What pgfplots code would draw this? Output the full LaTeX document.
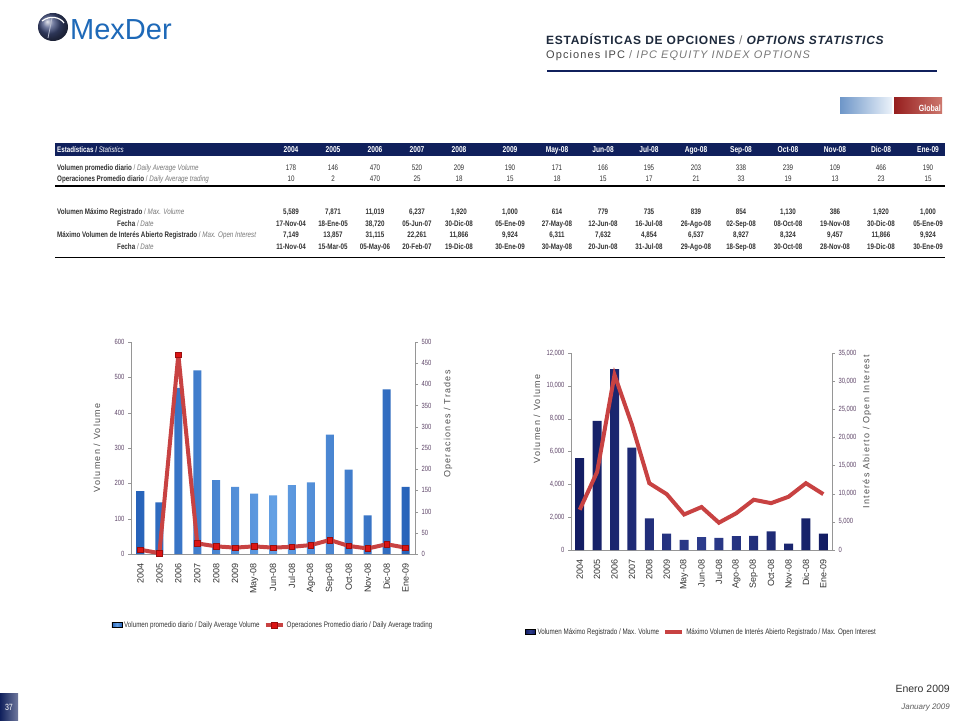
\documentclass[border=0pt]{standalone}
\usepackage{pgfplots}
\pgfplotsset{compat=1.18}
\usepackage{fontspec}
\setmainfont{Liberation Sans}
\newfontfamily\narrow[FakeStretch=0.78]{Liberation Sans}
\newfontfamily\spaced[LetterSpace=14]{Liberation Sans}
\newfontfamily\titlefont[LetterSpace=6]{Liberation Sans}
\newfontfamily\subfont[LetterSpace=10]{Liberation Sans}
\usetikzlibrary{shadings}

\definecolor{navy}{RGB}{16,32,92}
\definecolor{txt}{RGB}{50,50,50}
\definecolor{ttl}{RGB}{30,42,60}
\definecolor{itx}{RGB}{120,120,120}
\definecolor{tickc}{RGB}{95,70,105}
\definecolor{axc}{RGB}{150,150,150}
\definecolor{barblue}{RGB}{38,98,185}
\definecolor{barblueL}{RGB}{100,160,228}
\definecolor{bardark}{RGB}{18,28,98}
\definecolor{bardarkL}{RGB}{45,60,140}
\definecolor{linered}{RGB}{200,66,66}
\definecolor{markred}{RGB}{220,20,20}
\definecolor{logoblue}{RGB}{30,105,184}
\definecolor{tabblue}{RGB}{110,150,200}
\definecolor{tabblueL}{RGB}{235,242,250}
\definecolor{tabred}{RGB}{150,30,30}
\definecolor{tabredL}{RGB}{205,120,110}

\pgfplotsset{
  chart/.style={
    scale only axis, anchor=south west,
    xmin=-0.5, xmax=14.5,
    axis line style={axc},
    tick style={axc},
    tick align=outside,
    major tick length=3pt,
    /pgf/number format/assume math mode=true,
    /pgf/number format/1000 sep={,},
    scaled y ticks=false,
    yticklabel style={font=\narrow\fontsize{7.5}{8}\selectfont, text=tickc},
    ylabel style={font=\spaced\fontsize{9}{10}\selectfont, text=txt!85, anchor=center},
  },
  catx/.style={
    xtick={0,...,14},
    xticklabels={2004,2005,2006,2007,2008,2009,May-08,Jun-08,Jul-08,Ago-08,Sep-08,Oct-08,Nov-08,Dic-08,Ene-09},
    x tick label style={rotate=90, anchor=east, xshift=-3pt, font=\fontsize{9}{10}\selectfont, text=txt},
    x tick style={draw=none},
    minor xtick={-0.5,0.5,...,14.5},
    minor tick length=3pt,
    minor x tick style={axc},
  },
}

\begin{document}
\begin{tikzpicture}[x=1pt,y=1pt]
\fill[white] (0,0) rectangle (960,720);
\path[use as bounding box] (0,0) rectangle (960,720);

% logo
\shade[ball color=navy!80] (53,693) ellipse (15 and 14);
\draw[white, line width=1.2pt] (42,699) .. controls (50,705) and (60,703) .. (64,697);
\draw[white!70!navy, line width=0.8pt] (52,702) -- (48,682);
\node[anchor=west, text=logoblue, font=\fontsize{29}{30}\selectfont, inner sep=0] at (70,690) {MexDer};

% title block
\node[anchor=west, text=ttl, inner sep=0, font=\titlefont\fontsize{12}{13}\selectfont\bfseries] at (546,681)
  {ESTADÍSTICAS DE OPCIONES \textcolor{itx}{\mdseries/} \textit{OPTIONS STATISTICS}};
\node[anchor=west, text=txt!90, inner sep=0, font=\subfont\fontsize{11}{12}\selectfont] at (546,664)
  {Opciones IPC \textcolor{itx}{/ \textit{IPC EQUITY INDEX OPTIONS}}};
\fill[navy] (547,647.5) rectangle (937,650);

% Global tab
\shade[left color=tabblue, right color=tabblueL] (840,606) rectangle (892,622);
\shade[left color=tabred, right color=tabredL] (894,606) rectangle (942,622);
\node[anchor=east, text=white, inner sep=0, font=\narrow\fontsize{9}{10}\selectfont\bfseries] at (941,612) {Global};

% table
\fill[navy] (55,564) rectangle (945,577);
\node[anchor=base west, inner sep=0, text=white, font=\narrow\fontsize{8}{9}\selectfont\bfseries] at (57,567.6)
  {Estadísticas / \textit{\mdseries Statistics}};
\foreach \x/\v in {291/2004,333/2005,375/2006,417/2007,459/2008,510/2009,557/May-08,603/Jun-08,649/Jul-08,696/Ago-08,741/Sep-08,788/Oct-08,835/Nov-08,881/Dic-08,928/Ene-09}
  \node[anchor=base, inner sep=0, text=white, font=\narrow\fontsize{8.5}{9}\selectfont\bfseries] at (\x,567.4) {\v};

\begin{scope}[every node/.style={inner sep=0, anchor=base, text=txt, font=\narrow\fontsize{8}{9}\selectfont}]
\node[anchor=base west] at (57,549.1) {\textbf{Volumen promedio diario} \textcolor{itx}{/ \textit{Daily Average Volume}}};
\node[anchor=base west] at (57,538.1) {\textbf{Operaciones Promedio diario} \textcolor{itx}{/ \textit{Daily Average trading}}};
\node[anchor=base west] at (57,505.1) {\textbf{Volumen Máximo Registrado} \textcolor{itx}{/ \textit{Max. Volume}}};
\node[anchor=base west] at (117,493.1) {\textbf{Fecha} \textcolor{itx}{/ \textit{Date}}};
\node[anchor=base west] at (57,482.1) {\textbf{Máximo Volumen de Interés Abierto Registrado} \textcolor{itx}{/ \textit{Max. Open Interest}}};
\node[anchor=base west] at (117,470.1) {\textbf{Fecha} \textcolor{itx}{/ \textit{Date}}};

\foreach \x/\v in {291/178,333/146,375/470,417/520,459/209,510/190,557/171,603/166,649/195,696/203,741/338,788/239,835/109,881/466,928/190}
  \node at (\x,549.1) {\v};
\foreach \x/\v in {291/10,333/2,375/470,417/25,459/18,510/15,557/18,603/15,649/17,696/21,741/33,788/19,835/13,881/23,928/15}
  \node at (\x,538.1) {\v};
\foreach \x/\v in {291/5{,}589,333/7{,}871,375/11{,}019,417/6{,}237,459/1{,}920,510/1{,}000,557/614,603/779,649/735,696/839,741/854,788/1{,}130,835/386,881/1{,}920,928/1{,}000}
  \node[font=\narrow\fontsize{8}{9}\selectfont\bfseries] at (\x,505.1) {\v};
\foreach \x/\v in {291/17-Nov-04,333/18-Ene-05,375/38{,}720,417/05-Jun-07,459/30-Dic-08,510/05-Ene-09,557/27-May-08,603/12-Jun-08,649/16-Jul-08,696/26-Ago-08,741/02-Sep-08,788/08-Oct-08,835/19-Nov-08,881/30-Dic-08,928/05-Ene-09}
  \node[font=\narrow\fontsize{8}{9}\selectfont\bfseries] at (\x,493.1) {\v};
\foreach \x/\v in {291/7{,}149,333/13{,}857,375/31{,}115,417/22{,}261,459/11{,}866,510/9{,}924,557/6{,}311,603/7{,}632,649/4{,}854,696/6{,}537,741/8{,}927,788/8{,}324,835/9{,}457,881/11{,}866,928/9{,}924}
  \node[font=\narrow\fontsize{8}{9}\selectfont\bfseries] at (\x,482.1) {\v};
\foreach \x/\v in {291/11-Nov-04,333/15-Mar-05,375/05-May-06,417/20-Feb-07,459/19-Dic-08,510/30-Ene-09,557/30-May-08,603/20-Jun-08,649/31-Jul-08,696/29-Ago-08,741/18-Sep-08,788/30-Oct-08,835/28-Nov-08,881/19-Dic-08,928/30-Ene-09}
  \node[font=\narrow\fontsize{8}{9}\selectfont\bfseries] at (\x,470.1) {\v};
\end{scope}
\draw[black, line width=1.6pt] (55,534) -- (945,534);
\draw[black, line width=0.8pt] (55,463) -- (945,463);

% left chart: bars
\begin{axis}[chart, catx,
  at={(131pt,166pt)}, width=284pt, height=212pt,
  ymin=0, ymax=600, ytick={0,100,...,600},
  axis x line*=bottom, axis y line*=left,
  ylabel={Volumen / Volume},
  ylabel style={at={(rel axis cs:0,0.5)}, yshift=34pt},
]
\addplot[ybar, bar width=8pt, draw=none, left color=barblue, right color=barblue, middle color=barblueL] table {
x y
0 178
1 146
2 470
3 520
4 209
5 190
6 171
7 166
8 195
9 203
10 338
11 239
12 109
13 466
14 190
};
\end{axis}
% left chart: line
\begin{axis}[chart,
  at={(131pt,166pt)}, width=284pt, height=212pt,
  ymin=0, ymax=500, ytick={0,50,...,500},
  axis x line=none, axis y line*=right,
  ylabel={Operaciones / Trades},
  ylabel style={at={(rel axis cs:1,0.613)}, yshift=-33pt},
  legend style={at={(0.5,-0.335)}, anchor=center, draw=none, fill=none,
    font=\narrow\fontsize{8}{9}\selectfont, text=txt,
    legend columns=2, /tikz/every even column/.append style={column sep=2pt}},
  legend cell align=left,
]
\addlegendimage{legend image code/.code={\shade[left color=barblue, right color=barblue, middle color=barblueL] (0pt,-2.5pt) rectangle (10pt,2.5pt);}}
\addlegendentry{Volumen promedio diario / Daily Average Volume}
\addplot[linered, line width=4pt, mark=square*, mark size=2.8pt,
  mark options={fill=markred, draw=markred!70!black, line width=0.5pt}] table {
x y
0 10
1 2
2 470
3 25
4 18
5 15
6 18
7 15
8 17
9 21
10 33
11 19
12 13
13 23
14 15
};
\addlegendentry{Operaciones Promedio diario / Daily Average trading}
\end{axis}

% right chart: bars
\begin{axis}[chart, catx,
  at={(571pt,170pt)}, width=261pt, height=197pt,
  ymin=0, ymax=12000, ytick={0,2000,...,12000},
  axis x line*=bottom, axis y line*=left,
  ylabel={Volumen / Volume},
  ylabel style={at={(rel axis cs:0,0.665)}, yshift=34pt},
]
\addplot[ybar, bar width=9pt, draw=none, left color=bardark, right color=bardark, middle color=bardarkL] table {
x y
0 5589
1 7871
2 11019
3 6237
4 1920
5 1000
6 614
7 779
8 735
9 839
10 854
11 1130
12 386
13 1920
14 1000
};
\end{axis}
% right chart: line
\begin{axis}[chart,
  at={(571pt,170pt)}, width=261pt, height=197pt,
  ymin=0, ymax=35000, ytick={0,5000,...,35000},
  axis x line=none, axis y line*=right,
  ylabel={Interés Abierto / Open Interest},
  ylabel style={at={(rel axis cs:1,0.6)}, yshift=-35pt},
  legend style={at={(0.5,-0.416)}, anchor=center, draw=none, fill=none,
    font=\narrow\fontsize{8}{9}\selectfont, text=txt,
    legend columns=2, /tikz/every even column/.append style={column sep=2pt}},
  legend cell align=left,
]
\addlegendimage{legend image code/.code={\shade[left color=bardark, right color=bardark, middle color=bardarkL] (0pt,-2.5pt) rectangle (10pt,2.5pt);}}
\addlegendentry{Volumen Máximo Registrado / Max. Volume}
\addplot[linered, line width=4pt] table {
x y
0 7149
1 13857
2 31115
3 22261
4 11866
5 9924
6 6311
7 7632
8 4854
9 6537
10 8927
11 8324
12 9457
13 11866
14 9924
};
\addlegendentry{Máximo Volumen de Interés Abierto Registrado / Max. Open Interest}
\end{axis}

% footer
\shade[left color=navy, right color=navy!60] (0,0) rectangle (18,27);
\node[text=white, inner sep=0, font=\narrow\fontsize{9}{10}\selectfont] at (9,13) {37};
\node[anchor=east, inner sep=0, text=txt, font=\fontsize{10.5}{11}\selectfont] at (950,31) {Enero 2009};
\node[anchor=east, inner sep=0, text=txt!80, font=\fontsize{8}{9}\selectfont\itshape] at (950,12) {January 2009};
\end{tikzpicture}
\end{document}
